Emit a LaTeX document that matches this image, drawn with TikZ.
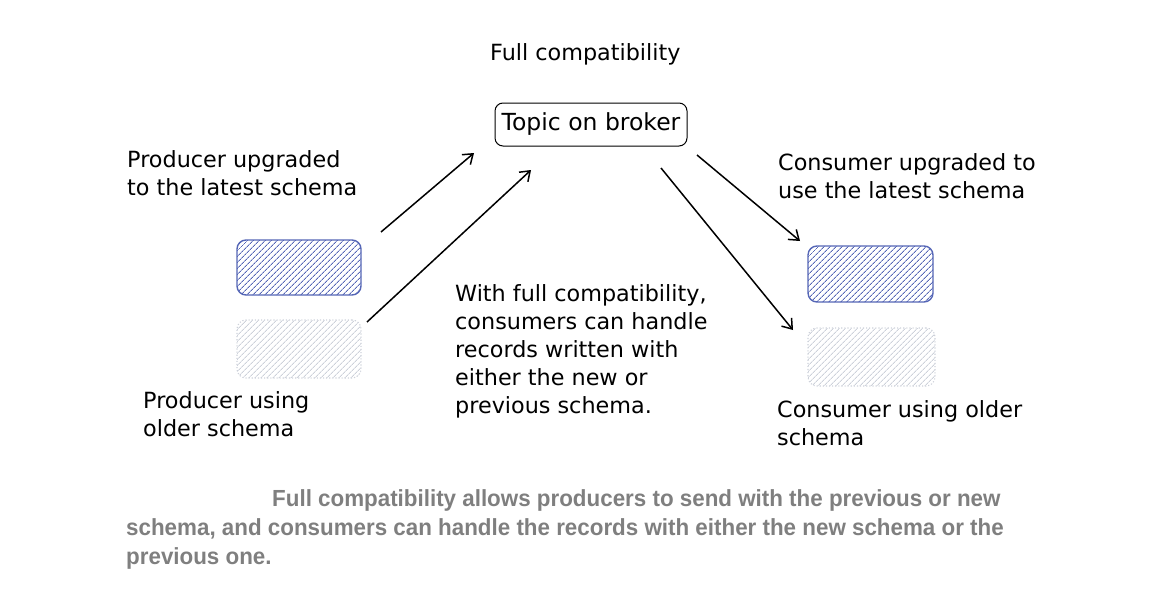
\documentclass[tikz,border=0pt]{standalone}
\usepackage{fontspec}
\setmainfont{DejaVu Sans}
\newfontfamily\capfont[FakeStretch=0.96]{Liberation Sans}
\usetikzlibrary{arrows.meta,patterns.meta}
\definecolor{schemablue}{HTML}{5566B6}
\definecolor{oldgray}{HTML}{CDD1DA}
\definecolor{capgray}{HTML}{7F7F7F}

\begin{document}
\begin{tikzpicture}[x=1pt,y=-1pt,
    hand/.style={font=\fontsize{22.3}{28}\selectfont, align=left, anchor=base west, inner sep=0pt},
    newbox/.style={draw=schemablue, line width=1.4pt, rounded corners=9pt,
      pattern={Lines[angle=45,distance=4pt,line width=0.9pt]}, pattern color=schemablue},
    oldbox/.style={rounded corners=9pt,
      pattern={Lines[angle=45,distance=4pt,line width=0.9pt]}, pattern color=oldgray,
      postaction={draw=oldgray, dotted, line width=1.1pt}},
    flow/.style={-{Straight Barb[length=9pt,width=13pt]}, line width=1.5pt}]
  \useasboundingbox (0,0) rectangle (1174,610);

  % multi-line nodes are placed by the baseline of their last line
  \node[hand] (title) at (490,60) {Full compatibility};
  \node[draw, line width=1pt, rounded corners=8pt, minimum width=192pt, minimum height=43pt,
    font=\fontsize{23.5}{28}\selectfont] (topic) at (591,124.5) {Topic on broker};

  % producers
  \node[hand] (prodnewtxt) at (127,195) {Producer upgraded\\to the latest schema};
  \node[newbox, minimum width=124pt, minimum height=55pt] (prodnew) at (299,267.5) {};
  \node[oldbox, minimum width=124pt, minimum height=58pt] (prodold) at (299,349) {};
  \node[hand] (prodoldtxt) at (143,436) {Producer using\\older schema};

  \node[hand] (note) at (455,413) {With full compatibility,\\consumers can handle\\records written with\\either the new or\\previous schema.};

  % consumers
  \node[hand] (consnewtxt) at (778,198) {Consumer upgraded to\\use the latest schema};
  \node[newbox, minimum width=125pt, minimum height=56pt] (consnew) at (870.5,274) {};
  \node[oldbox, minimum width=127pt, minimum height=58pt] (consold) at (871.5,357) {};
  \node[hand] (consoldtxt) at (777,445) {Consumer using older\\schema};

  \coordinate (prodnew-out) at (381,232);
  \coordinate (topic-in1) at (474,153);
  \coordinate (prodold-out) at (367,322);
  \coordinate (topic-in2) at (531,170);
  \coordinate (topic-out1) at (697,155);
  \coordinate (consnew-in) at (800,241);
  \coordinate (topic-out2) at (661,168);
  \coordinate (consold-in) at (793,330);
  \draw[flow] (prodnew-out) -- (topic-in1);
  \draw[flow] (prodold-out) -- (topic-in2);
  \draw[flow] (topic-out1) -- (consnew-in);
  \draw[flow] (topic-out2) -- (consold-in);

  \node[align=left, anchor=base west, inner sep=0pt, text=capgray,
    font=\capfont\bfseries\fontsize{23.3}{29}\selectfont] (caption) at (126,564)
    {\hspace*{146pt}Full compatibility allows producers to send with the previous or new\\
     schema, and consumers can handle the records with either the new schema or the\\
     previous one.};
\end{tikzpicture}
\end{document}
